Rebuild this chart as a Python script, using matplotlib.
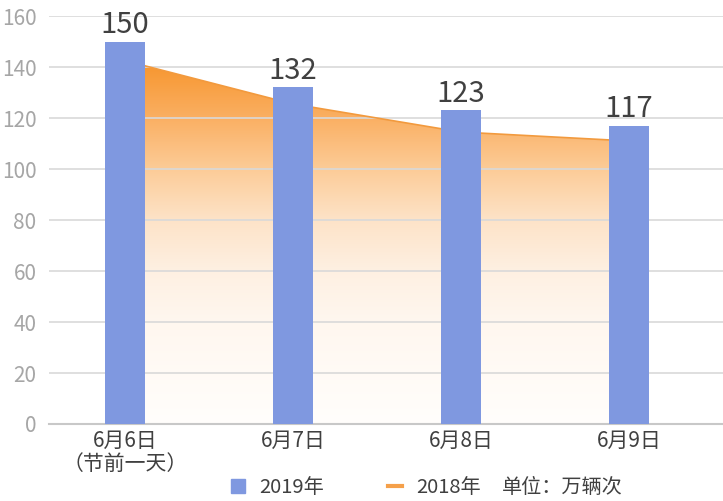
import numpy as np
import matplotlib.pyplot as plt
from matplotlib.patches import Patch
from matplotlib.lines import Line2D
from matplotlib.colors import LinearSegmentedColormap

plt.rcParams['font.family'] = ['Noto Sans CJK SC', 'DejaVu Sans']

days = ['6月6日\n（节前一天）', '6月7日', '6月8日', '6月9日']
v2019 = [150, 132, 123, 117]
v2018 = [142.5, 125.5, 114.5, 111]

bar_color = '#7F98E0'

fig = plt.figure(figsize=(7.23, 5.01), dpi=100)
ax = fig.add_axes([0.0678, 0.1537, 0.9322, 0.8143])

x = np.arange(len(days))

# 2018 area with vertical gradient
ax.plot(x, v2018, color='#F29A3E', lw=1.2, zorder=2)
poly = ax.fill_between(x, 0, v2018, color='none', zorder=1)
cmap = LinearSegmentedColormap.from_list('og', [
    (0.0, '#FFFEFC'), (0.28, '#FFF7EF'), (0.42, '#FEF0E2'),
    (0.56, '#FDE3C8'), (0.70, '#FCCC98'), (0.85, '#FAAE60'), (1.0, '#F7952C')])
grad = np.linspace(0, 1, 256).reshape(-1, 1)
img = ax.imshow(grad, cmap=cmap, aspect='auto', origin='lower',
                extent=[x[0], x[-1], 0, max(v2018)], zorder=1)
img.set_clip_path(poly.get_paths()[0], transform=ax.transData)

bars = ax.bar(x, v2019, width=0.24, color=bar_color, zorder=3)
for xi, v in zip(x, v2019):
    ax.text(xi, v + 0.6, str(v), ha='center', va='bottom', fontsize=21, color='#404040', zorder=4)

ax.set_xlim(-0.452, 3.56)
ax.set_ylim(0, 160)
ax.set_yticks(range(0, 161, 20))
ax.set_xticks(x)
ax.set_xticklabels(days, fontsize=15, color='#404040', linespacing=1.1)
ax.tick_params(axis='y', labelsize=15, labelcolor='#A6A6A6', length=0, pad=9)
ax.tick_params(axis='x', length=0, pad=4)
ax.grid(axis='y', color='#D9D9D9', lw=1.2)
ax.set_axisbelow('line')
for s in ['top', 'right', 'left']:
    ax.spines[s].set_visible(False)
ax.spines['bottom'].set_color('#C8C8C8')
ax.spines['bottom'].set_linewidth(1.5)

handles = [Patch(color=bar_color), Line2D([], [], color='#F5A04A', lw=3)]
fig.legend(handles, ['2019年', '2018年'], loc='center',
           bbox_to_anchor=(0.492, 0.027), ncol=2, frameon=False, fontsize=14.5,
           handlelength=0.7, handleheight=0.7, columnspacing=3.2, handletextpad=0.7,
           labelcolor='#404040')
fig.text(0.694, 0.027, '单位：万辆次', ha='left', va='center', fontsize=14.5, color='#404040')

fig.savefig('out.png', dpi=100)
